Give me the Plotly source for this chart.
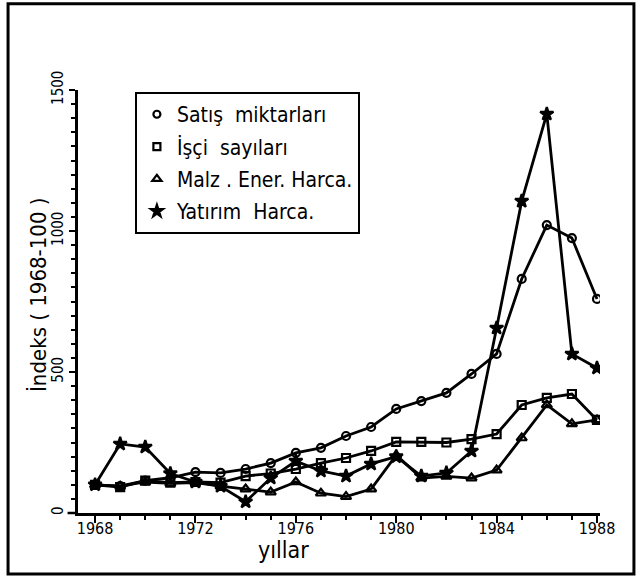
import plotly.graph_objects as go

years = list(range(1968, 1989))
satis = [100, 95, 115, 125, 145, 142, 156, 177, 213, 231, 273, 305, 369, 397, 426, 493, 564, 830, 1021, 975, 759]
isci = [100, 92, 115, 108, 110, 108, 131, 140, 156, 177, 195, 220, 252, 252, 250, 262, 280, 383, 408, 422, 330]
malz = [100, 95, 110, 105, 108, 95, 85, 74, 110, 70, 58, 85, 205, 124, 130, 124, 152, 266, 383, 316, 330]
yatirim = [100, 245, 234, 140, 110, 95, 40, 124, 184, 149, 131, 174, 200, 131, 142, 220, 656, 1106, 1415, 564, 514]

NB = "\u00a0"
names = ["Satış" + NB * 2 + "miktarları", "İşçi" + NB * 2 + "sayıları",
         "Malz . Ener. Harca.", "Yatırım" + NB * 2 + "Harca."]
series = [satis, isci, malz, yatirim]
symbols = ["circle-open", "square-open", "triangle-up-open", "star"]
sizes = [8, 8, 9, 10]

FONT = "DejaVu Sans Condensed, Liberation Sans Narrow, DejaVu Sans, sans-serif"

fig = go.Figure()
for name, vals, sym, sz in zip(names, series, symbols, sizes):
    fig.add_trace(go.Scatter(
        x=years, y=vals, mode="lines+markers", showlegend=False,
        line=dict(color="black", width=2.8),
        marker=dict(symbol=sym, size=sz, color="black", line=dict(color="black", width=2.2)),
    ))
for i, (name, sym, sz) in enumerate(zip(names, symbols, sizes)):
    fig.add_trace(go.Scatter(
        x=[None], y=[None], mode="markers", name=name, legendgroup=f"g{i}",
        marker=dict(symbol=sym, size=sz - 1, color="black", line=dict(color="black", width=2.2)),
    ))

fig.update_layout(
    width=640, height=582,
    margin=dict(l=78, r=40, t=90, b=69),
    paper_bgcolor="white", plot_bgcolor="white",
    font=dict(family=FONT, color="black"),
    showlegend=True,
    legend=dict(
        x=0.109, y=0.995, xanchor="left", yanchor="top",
        bordercolor="black", borderwidth=2, bgcolor="white",
        font=dict(family=FONT, size=21, color="black"),
        itemwidth=30, tracegroupgap=2,
    ),
    xaxis=dict(
        range=[1967.32, 1988.12], showgrid=False, zeroline=False,
        showline=True, linecolor="black", linewidth=2.5,
        tick0=1968, dtick=4, ticks="outside", ticklen=7, tickwidth=2, tickcolor="black",
        ticklabelstandoff=-8,
        tickfont=dict(family=FONT, size=16),
        minor=dict(dtick=1, ticks="outside", ticklen=4, tickwidth=2, tickcolor="black"),
    ),
    yaxis=dict(
        range=[0, 1500], showgrid=False, zeroline=False,
        showline=True, linecolor="black", linewidth=2.5,
        tick0=0, dtick=500, ticks="outside", ticklen=6, tickwidth=2, tickcolor="black",
        tickangle=-90, tickfont=dict(family=FONT, size=15),
        minor=dict(dtick=50, ticks="outside", ticklen=4, tickwidth=1.5, tickcolor="black"),
    ),
    shapes=[
        dict(type="rect", xref="paper", yref="paper",
             x0=-0.134, x1=1.065, y0=-0.144, y1=1.204,
             line=dict(color="black", width=3)),
        dict(type="line", xref="paper", yref="paper",
             x0=-0.02, x1=0, y0=0, y1=0, line=dict(color="black", width=2.5)),
    ],
    annotations=[
        dict(text="yıllar", xref="paper", yref="paper", x=0.393, y=-0.087,
             showarrow=False, font=dict(family=FONT, size=23), xanchor="center", yanchor="middle"),
        dict(text="İndeks ( 1968-100 )", xref="paper", yref="paper", x=-0.077, y=0.515,
             showarrow=False, textangle=-90, font=dict(family=FONT, size=22),
             xanchor="center", yanchor="middle"),
    ],
)

fig.write_html(
    "out.html",
    config={"displayModeBar": False},
    post_script="document.body.style.margin='0';document.body.style.overflow='hidden';",
)
